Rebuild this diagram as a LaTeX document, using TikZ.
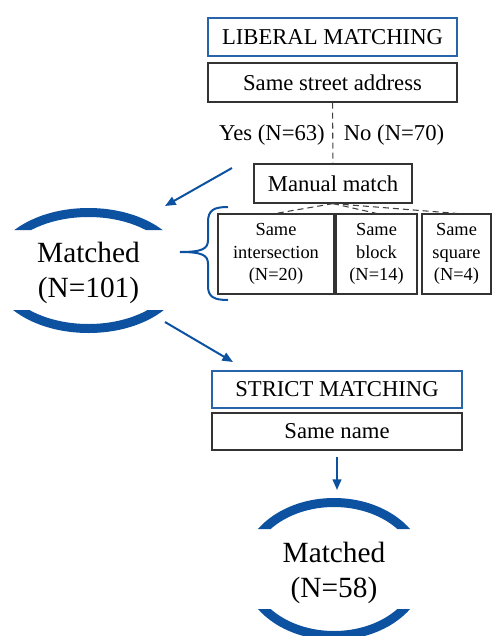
\documentclass[tikz,border=0pt]{standalone}
\usepackage{fontspec}
\setmainfont{Liberation Serif}
\usetikzlibrary{arrows.meta}
\definecolor{arcblue}{RGB}{12,82,160}
\definecolor{boxblue}{RGB}{40,100,170}

\begin{document}
\begin{tikzpicture}[x=0.75pt,y=-0.75pt,
    title/.style={draw=boxblue, line width=1.6pt, inner sep=0pt,
      font=\fontsize{17}{19}\selectfont},
    crit/.style={draw=black!80, line width=0.9pt, inner sep=0pt,
      font=\fontsize{17}{19}\selectfont},
    way/.style={draw=black!80, line width=0.9pt, inner sep=0pt, align=center,
      font=\fontsize{13.8}{17}\selectfont},
    lab/.style={font=\fontsize{17}{19}\selectfont},
    res/.style={align=center, font=\fontsize{22}{26.5}\selectfont},
    ring/.style={draw=arcblue, line width=6.75pt},
    flow/.style={draw=arcblue, line width=1.5pt, -{Triangle[length=8pt,width=6.5pt]}},
    split/.style={draw=black!75, line width=0.8pt, dash pattern=on 4.5pt off 3pt}]
    \useasboundingbox (0,0) rectangle (492,636);

    \node[title, minimum width=186.75pt, minimum height=28.5pt] (lib) at (332.5,37) {LIBERAL MATCHING};
    \node[crit, minimum width=186.75pt, minimum height=29.25pt] (street) at (332.5,82.5) {Same street address};
    \node[lab] (yes) at (272,135) {Yes (N=63)};
    \node[lab] (no) at (394,135) {No (N=70)};
    \node[crit, minimum width=118.5pt, minimum height=29.25pt] (manual) at (333,183.5) {Manual match};
    \node[way, minimum width=87pt, minimum height=60pt] (inter) at (276,254) {Same\\intersection\\(N=20)};
    \node[way, minimum width=60.75pt, minimum height=60pt] (block) at (376.5,254) {Same\\block\\(N=14)};
    \node[way, minimum width=51.75pt, minimum height=60pt] (square) at (456.5,254) {Same\\square\\(N=4)};
    \node[res] (match1) at (88.5,273) {Matched\\(N=101)};
    \node[title, minimum width=187.5pt, minimum height=27.75pt] (strict) at (337,389.5) {STRICT MATCHING};
    \node[crit, minimum width=187.5pt, minimum height=27.75pt] (name) at (337,431.5) {Same name};
    \node[res] (match2) at (334,573) {Matched\\(N=58)};

    \coordinate (yesend) at (232,168);
    \coordinate (m1top) at (165,206);
    \coordinate (m1bot) at (165,322);
    \coordinate (strictin) at (233,362);
    \coordinate (m2top) at (337,490);

    % dashed branches
    \draw[split] (street) -- (manual);
    \draw[split] (manual.south) -- (inter.north);
    \draw[split] (manual.south) -- (block.north);
    \draw[split] (manual.south) -- (square.north);

    % blue flow arrows
    \draw[flow] (yesend) -- (m1top);
    \draw[flow] (m1bot) -- (strictin);
    \draw[flow] ([yshift=-5pt]name.south) -- (m2top);

    % brace
    \draw[arcblue, line width=1.5pt] (228,207) .. controls (214,207) and (208,210) .. (208,222)
      -- (208,240) .. controls (208,249) and (202,252) .. (180,252);
    \draw[arcblue, line width=1.5pt] (180,252) .. controls (202,252) and (208,255) .. (208,264)
      -- (208,286) .. controls (208,297) and (214,300) .. (228,300);

    % open rings
    \begin{scope}
      \clip (-10,-10) rectangle (500,230) (-10,310) rectangle (500,650);
      \draw[ring] (88.5,270.5) ellipse [x radius=92.5, y radius=58];
    \end{scope}
    \begin{scope}
      \clip (-10,-10) rectangle (500,529) (-10,609) rectangle (500,650);
      \draw[ring] (334,569) ellipse [x radius=87.5, y radius=66.5];
    \end{scope}
  \end{tikzpicture}
\end{document}
